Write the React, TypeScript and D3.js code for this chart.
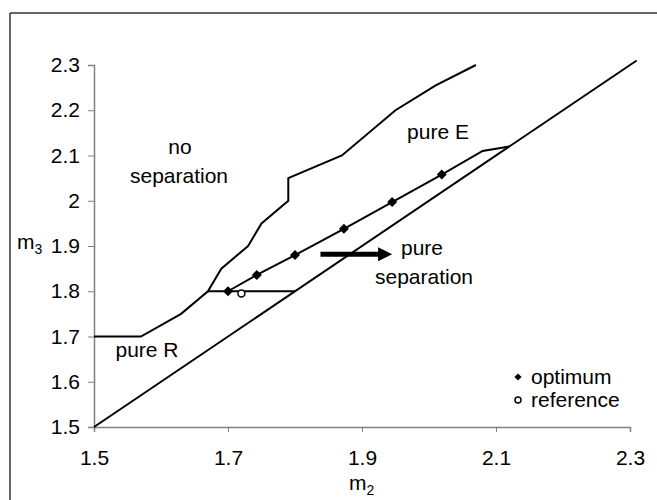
import React, { useEffect, useRef } from "react";
import * as d3 from "d3";

// ---- data ----
const xTicks = [1.5, 1.7, 1.9, 2.1, 2.3];
const yTicks = [1.5, 1.6, 1.7, 1.8, 1.9, 2.0, 2.1, 2.2, 2.3];

// boundary between "no separation" and the rest
const boundaryM2 = [1.5, 1.57, 1.63, 1.67, 1.69, 1.73, 1.75, 1.79, 1.79, 1.87, 1.95, 2.01, 2.07];
const boundaryM3 = [1.7, 1.7, 1.75, 1.8, 1.85, 1.9, 1.95, 2.0, 2.05, 2.1, 2.2, 2.255, 2.3];

// pure R upper boundary segment
const pureRM2 = [1.67, 1.8];
const pureRM3 = [1.8, 1.8];

// diagonal m3 = m2
const diagM2 = [1.5, 2.31];
const diagM3 = [1.5, 2.31];

// optimum curve
const optM2 = [1.7, 1.743, 1.8, 1.873, 1.945, 2.019, 2.08, 2.12];
const optM3 = [1.8, 1.836, 1.88, 1.938, 1.997, 2.058, 2.11, 2.12];
const optMarkerCount = 6;

// reference point
const refM2 = [1.72];
const refM3 = [1.795];

// arrow
const arrowM2 = [1.838, 1.945];
const arrowM3 = [1.882, 1.882];

const FONT = "'Liberation Sans', Arial, sans-serif";

export default function App() {
  const ref = useRef<SVGSVGElement | null>(null);

  useEffect(() => {
    const svg = d3.select(ref.current);
    svg.selectAll("*").remove();

    const x = d3.scaleLinear().domain([1.5, 2.3]).range([94, 630]);
    const y = d3.scaleLinear().domain([1.5, 2.3]).range([427, 65]);

    // outer frame (top & left visible)
    svg.append("line").attr("x1", 10).attr("x2", 657).attr("y1", 13).attr("y2", 13)
      .attr("stroke", "#333").attr("stroke-width", 1.5);
    svg.append("line").attr("x1", 10).attr("x2", 10).attr("y1", 13).attr("y2", 500)
      .attr("stroke", "#333").attr("stroke-width", 1.5);

    // axes
    const gx = svg.append("g").attr("transform", `translate(0,${y(1.5)})`)
      .call(d3.axisBottom(x).tickValues(xTicks).tickSize(5).tickPadding(18)
        .tickFormat((d: any) => d3.format(".1f")(d)));
    const gy = svg.append("g").attr("transform", `translate(${x(1.5)},0)`)
      .call(d3.axisLeft(y).tickValues(yTicks).tickSize(6).tickPadding(8)
        .tickFormat((d: any) => (Math.abs(+d - 2) < 1e-9 ? "2" : d3.format(".1f")(d))));
    [gx, gy].forEach((g) => {
      g.select(".domain").attr("stroke", "#808080").attr("stroke-width", 1.5);
      g.selectAll(".tick line").attr("stroke", "#808080").attr("stroke-width", 1);
      g.selectAll(".tick text").attr("font-family", FONT).attr("font-size", 21).attr("fill", "#000");
    });

    const line = d3.line<[number, number]>().x((d) => x(d[0])).y((d) => y(d[1]));
    const zip = (a: number[], b: number[]) => a.map((v, i) => [v, b[i]] as [number, number]);

    const drawLine = (pts: [number, number][]) =>
      svg.append("path").attr("d", line(pts)).attr("fill", "none")
        .attr("stroke", "#000").attr("stroke-width", 2).attr("stroke-linejoin", "miter");

    drawLine(zip(diagM2, diagM3));
    drawLine(zip(boundaryM2, boundaryM3));
    drawLine(zip(pureRM2, pureRM3));
    drawLine(zip(optM2, optM3));

    // diamonds
    const diamond = d3.symbol().type(d3.symbolSquare).size(50);
    zip(optM2, optM3).slice(0, optMarkerCount).forEach(([a, b]) => {
      svg.append("path").attr("d", diamond()).attr("fill", "#000")
        .attr("transform", `translate(${x(a)},${y(b)}) rotate(45)`);
    });

    // reference circle
    zip(refM2, refM3).forEach(([a, b]) => {
      svg.append("circle").attr("cx", x(a)).attr("cy", y(b)).attr("r", 3.5)
        .attr("fill", "#fff").attr("stroke", "#000").attr("stroke-width", 1.5);
    });

    // arrow
    const ax0 = x(arrowM2[0]), ax1 = x(arrowM2[1]), ay = y(arrowM3[0]);
    svg.append("line").attr("x1", ax0).attr("x2", ax1 - 12).attr("y1", ay).attr("y2", ay)
      .attr("stroke", "#000").attr("stroke-width", 5);
    svg.append("path").attr("d", `M${ax1},${ay} L${ax1 - 14},${ay - 7} L${ax1 - 14},${ay + 7} Z`)
      .attr("fill", "#000");

    // annotation texts
    const txt = (s: string, tx: number, ty: number, anchor = "middle", size = 21) =>
      svg.append("text").attr("x", tx).attr("y", ty).attr("text-anchor", anchor)
        .attr("font-family", FONT).attr("font-size", size).attr("fill", "#000").text(s);

    txt("no", 180, 154);
    txt("separation", 179, 183);
    txt("pure E", 438, 139);
    txt("pure", 422, 255);
    txt("separation", 424, 284);
    txt("pure R", 147, 357);

    // legend
    svg.append("path").attr("d", d3.symbol().type(d3.symbolSquare).size(26)())
      .attr("fill", "#000").attr("transform", `translate(518,377) rotate(45)`);
    svg.append("circle").attr("cx", 518).attr("cy", 400).attr("r", 3)
      .attr("fill", "#fff").attr("stroke", "#000").attr("stroke-width", 1.5);
    txt("optimum", 531, 384, "start");
    txt("reference", 531, 407, "start");

    // axis titles
    const m2 = svg.append("text").attr("x", 349).attr("y", 490).attr("font-family", FONT)
      .attr("font-size", 21).attr("fill", "#000");
    m2.append("tspan").text("m");
    m2.append("tspan").attr("font-size", 14).attr("dy", 5).text("2");

    const m3 = svg.append("text").attr("x", 17).attr("y", 249).attr("font-family", FONT)
      .attr("font-size", 21).attr("fill", "#000");
    m3.append("tspan").text("m");
    m3.append("tspan").attr("font-size", 14).attr("dy", 5).text("3");
  }, []);

  return (
    <svg
      ref={ref}
      width={657}
      height={500}
      style={{ position: "absolute", left: 0, top: 0, background: "#fff" }}
    />
  );
}
